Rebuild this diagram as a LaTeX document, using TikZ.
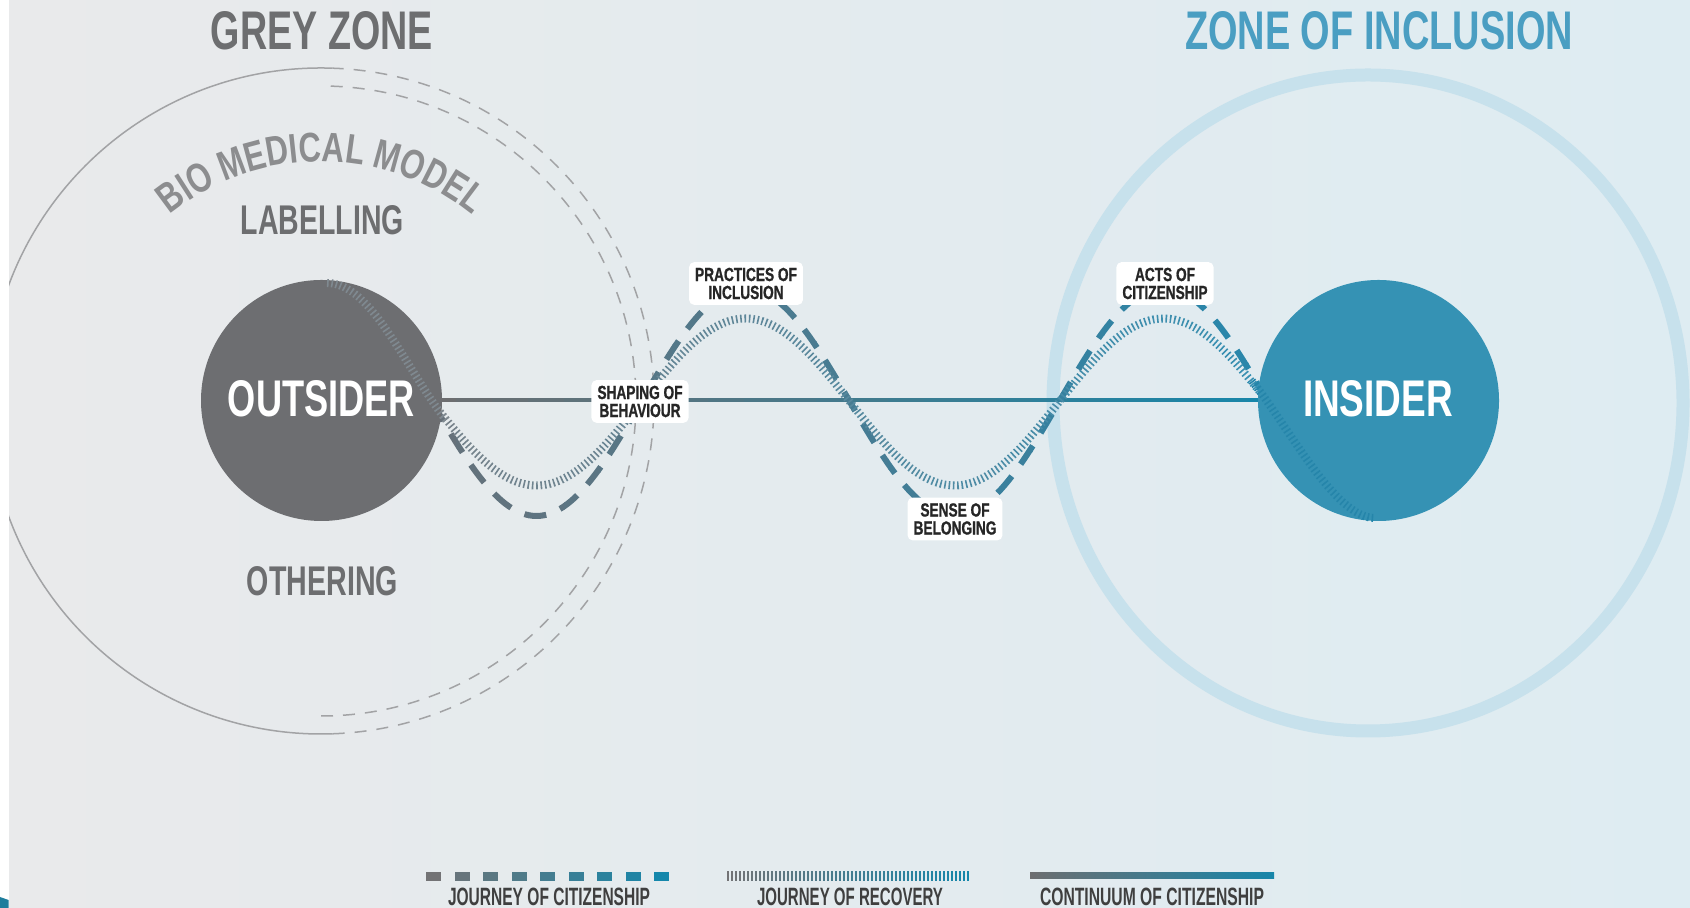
\documentclass[tikz,border=0pt]{standalone}
\usepackage{fontspec}
\setmainfont{Liberation Sans}
\newfontfamily\bioface{Liberation Sans}[FakeStretch=0.75]
\newfontfamily\lblface{Liberation Sans}[FakeStretch=0.72,FakeBold=1]
\usetikzlibrary{decorations.text}
\pgfdeclarelayer{bg}
\pgfdeclarelayer{mid}
\pgfsetlayers{bg,mid,main}
\definecolor{bgL}{HTML}{E9EAEB}
\definecolor{bgR}{HTML}{DEECF2}
\definecolor{greyt}{HTML}{6D6E70}
\definecolor{bluet}{HTML}{4A9EC2}
\definecolor{outg}{HTML}{6D6E71}
\definecolor{insb}{HTML}{3592B4}
\definecolor{biog}{HTML}{8C8D8F}
\definecolor{lbltext}{HTML}{262626}
\definecolor{legtext}{HTML}{3F3F3F}
\definecolor{zonec}{HTML}{A2A3A5}
\definecolor{ringc}{HTML}{C7E1EC}
\definecolor{wL}{HTML}{66717A}
\definecolor{wR}{HTML}{2787AC}
\definecolor{hL}{HTML}{77828A}
\definecolor{hR}{HTML}{3690B3}
\definecolor{lineL}{HTML}{6D6E70}
\definecolor{lineR}{HTML}{1786AA}
\definecolor{sqL}{HTML}{737375}
\definecolor{sqR}{HTML}{1587AB}
\definecolor{innerO}{HTML}{7F8990}
\definecolor{innerI}{HTML}{2585AA}
\definecolor{frag}{HTML}{1E7D9C}
\newcommand\fitbox[3]{\resizebox{#1pt}{#2pt}{\bfseries #3}}
\begin{document}
\begin{tikzpicture}[x=0.5pt,y=0.5pt,
  zoneline/.style={draw=zonec, line width=0.75pt},
  zonedash/.style={dash pattern=on 6pt off 5pt},
  hub/.style={circle, inner sep=0pt, minimum size=120.5pt},
  contline/.style={line width=2pt},
  journey/.style={line width=3pt, dash pattern=on 11pt off 7.5pt},
  recov/.style={line width=4pt, dash pattern=on 0.8pt off 1.35pt},
  lbl/.style={fill=white, rounded corners=2.5pt, inner xsep=3pt, inner ysep=2.8pt, align=center, text=lbltext, font=\lblface\bfseries\fontsize{9.5}{9}\selectfont},
  txt/.style={anchor=base, inner sep=0pt}]
\useasboundingbox (0,0) rectangle (1690,908);

% ---------- background ----------
\begin{pgfonlayer}{bg}
\fill[white] (0,0) rectangle (9,908);
\begin{scope}
\clip (9,0) rectangle (1690,908);
\shade[left color=bgL, right color=bgR] (9,0) rectangle (1690,908);
\coordinate (gz) at (321,507);
\draw[zoneline] (gz) ++(88:333) arc[start angle=88, end angle=272, radius=333];
\draw[zoneline, zonedash] (gz) ++(-88:333) arc[start angle=-88, end angle=88, radius=333];
\draw[zoneline, zonedash] (gz) ++(-90:315) arc[start angle=-90, end angle=90, radius=315];
\draw[ringc, line width=6.5pt] (1368,505) ellipse [x radius=315, y radius=328];
\end{scope}
\fill[frag] (0,0) -- (0,11) -- (8.5,8) -- (8.5,0) -- cycle;
\end{pgfonlayer}

% ---------- hubs ----------
\node[hub, fill=outg] (out) at (321.5,507.5) {};
\node[hub, fill=insb] (ins) at (1378.5,507.5) {};

% ---------- continuum, journeys (gradient bands) ----------
\begin{pgfonlayer}{mid}
\foreach \i in {0,...,23}{
  \pgfmathsetmacro\xa{420+36*\i}
  \pgfmathsetmacro\pc{100*\i/23}
  \begin{scope}
    \clip (\xa,250) rectangle ++(36.6,420);
    \draw[contline, color=lineR!\pc!lineL] (out) -- (ins);
    \draw[journey, color=wR!\pc!wL] (432,506) sin (536.5,392) cos (641,506) sin (745.5,620) cos (850,506) sin (954.5,392) cos (1059,506) sin (1163.5,620) cos (1268,506);
    \draw[recov, color=hR!\pc!hL] (432,506) sin (536.5,422.5) cos (641,506) sin (745.5,589.5) cos (850,506) sin (954.5,422.5) cos (1059,506) sin (1163.5,589.5) cos (1268,506);
  \end{scope}
}
\end{pgfonlayer}

% recovery path continuing inside the hubs
\draw[recov, color=innerO] (446,488) .. controls (406,538) and (372,625) .. (327,625);
\draw[recov, color=innerI] (1252,527) .. controls (1290,479) and (1335,390) .. (1375,390);

% ---------- labels on the journey ----------
\node[lbl] (shp) at (640,506.5) {SHAPING OF\\BEHAVIOUR};
\node[lbl] (pri) at (746,624.5) {PRACTICES OF\\INCLUSION};
\node[lbl] (sob) at (955,389) {SENSE OF\\BELONGING};
\node[lbl] (aoc) at (1165,624.5) {ACTS OF\\CITIZENSHIP};

% ---------- texts ----------
\node[txt, text=white] (outt) at (321.5,491) {\fitbox{93.5}{18}{OUTSIDER}};
\node[txt, text=white] (inst) at (1378,491) {\fitbox{75}{18}{INSIDER}};
\node[txt, text=greyt] (gzt) at (322,858) {\fitbox{111}{19}{GREY ZONE}};
\node[txt, text=bluet] (zit) at (1379,858) {\fitbox{194}{19}{ZONE OF INCLUSION}};
\node[txt, text=greyt] (lab) at (322.5,673) {\fitbox{81.5}{14.5}{LABELLING}};
\node[txt, text=greyt] (oth) at (322.5,312) {\fitbox{75.5}{14.5}{OTHERING}};
\path[decorate, decoration={text along path, text align=center, text color=biog,
  text={|\bioface\bfseries\fontsize{20.75}{20}\selectfont|BIO MEDICAL MODEL}}]
  (151.65,676.35) arc[start angle=135, end angle=45, radius=239.5];

% ---------- legend ----------
\foreach \k in {0,...,8}{
  \pgfmathsetmacro\pc{100*\k/8}
  \fill[color=sqR!\pc!sqL] (426+28.5*\k,27) rectangle ++(15,9);
}
\foreach \k in {0,...,60}{
  \pgfmathsetmacro\pc{100*\k/60}
  \draw[line width=0.8pt, color=sqR!\pc!sqL] (728+4*\k,27) -- ++(0,10);
}
\shade[left color=lineL, right color=lineR] (1030,29.5) rectangle (1274,35.5);
\node[txt, text=legtext] (lg1) at (549,2) {\fitbox{101}{8.75}{JOURNEY OF CITIZENSHIP}};
\node[txt, text=legtext] (lg2) at (850,2) {\fitbox{93}{8.75}{JOURNEY OF RECOVERY}};
\node[txt, text=legtext] (lg3) at (1152,2) {\fitbox{112}{8.75}{CONTINUUM OF CITIZENSHIP}};
\end{tikzpicture}
\end{document}
